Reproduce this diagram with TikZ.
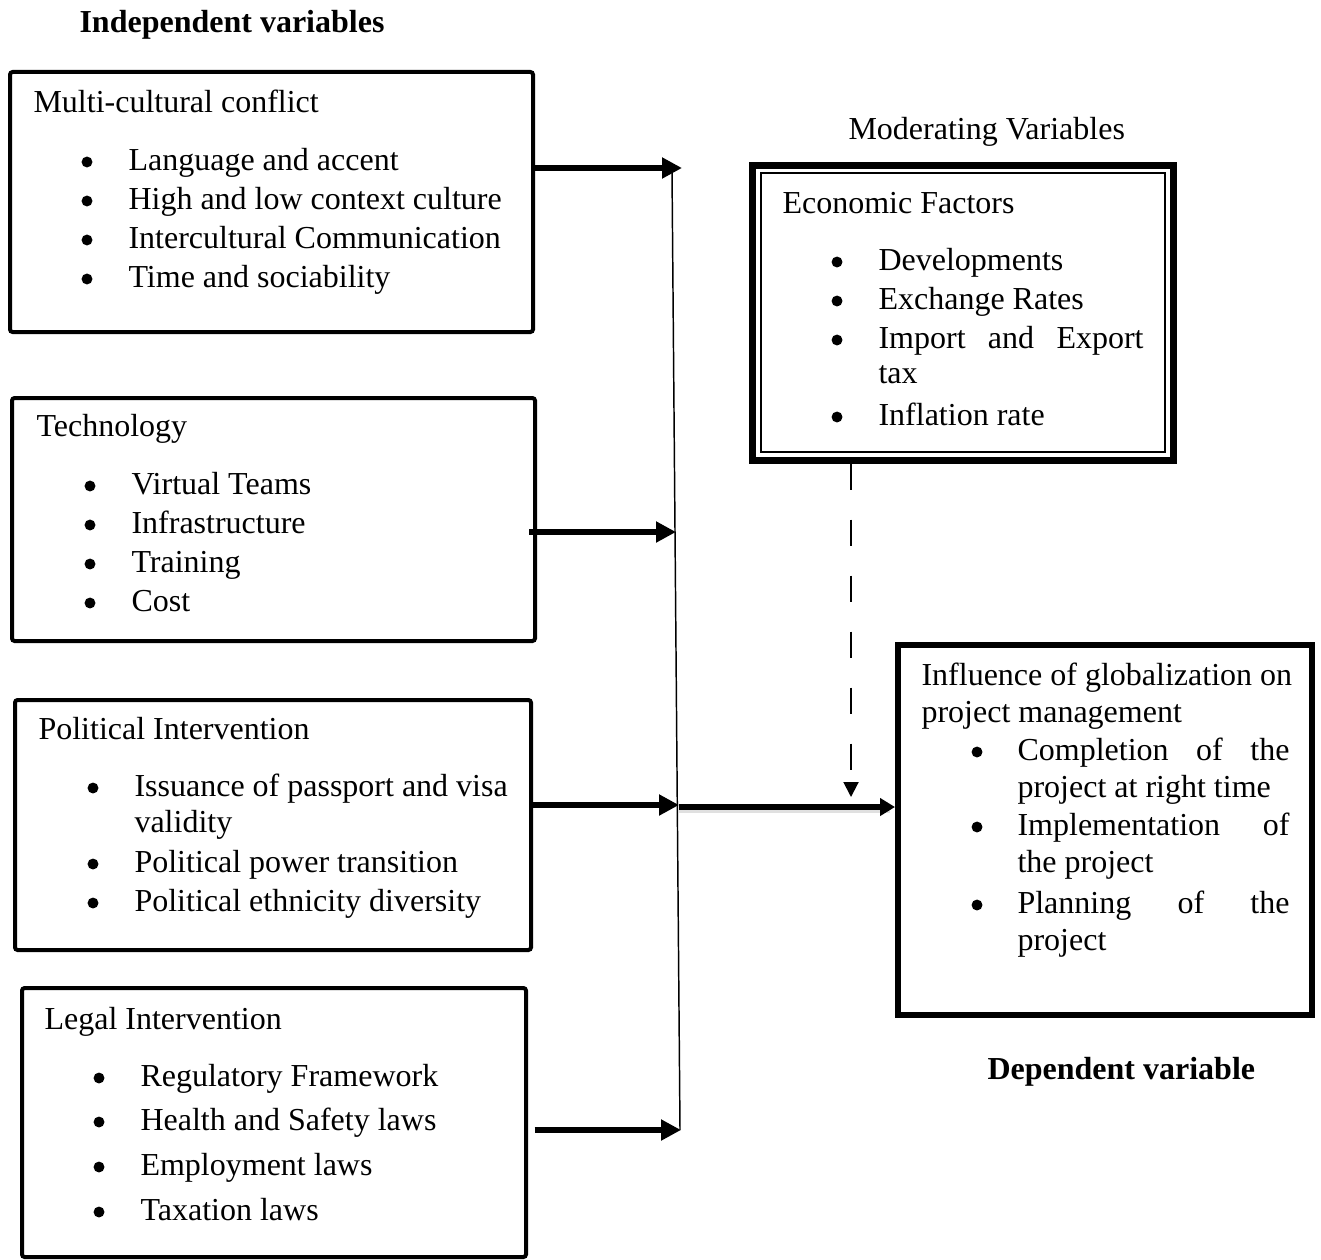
\documentclass[tikz,border=0pt]{standalone}
\usepackage{fontspec}
\setmainfont{Liberation Serif}
\usetikzlibrary{arrows.meta,fit}
\begin{document}
\begin{tikzpicture}[x=0.375pt,y=-0.375pt,
  box/.style={draw, line width=1.5pt, rounded corners=1pt, inner sep=0pt},
  txt/.style={anchor=base west, inner sep=0pt, font=\fontsize{12}{14}\selectfont},
  txtb/.style={anchor=base west, inner sep=0pt, font=\fontsize{12}{14}\selectfont\bfseries},
  bul/.style={circle, fill=black, inner sep=0pt, minimum size=4.1pt},
  arr/.style={line width=2.3pt, -{Triangle[length=7.5pt,width=7.5pt]}},
  mainarr/.style={line width=2.2pt, -{Triangle[length=5.6pt,width=6.4pt]}},
  dasharr/.style={line width=0.75pt, dash pattern=on 10.1pt off 10.9pt, -{Triangle[length=5.6pt,width=5.6pt]}},
  thinline/.style={line width=0.55pt}]
\useasboundingbox (0,0) rectangle (1321,1259);

% title
\node[txtb] (tind) at (79,33) {Independent variables};

% Box 1
\node[box, fit={(10,72) (533,332)}] (b1) {};
\node[txt] (b1h) at (33,112) {Multi-cultural conflict};
\node[bul] (b1p1) at (87,162) {}; \node[txt] (b1t1) at (128,170) {Language and accent};
\node[bul] (b1p2) at (87,201) {}; \node[txt] (b1t2) at (128,209) {High and low context culture};
\node[bul] (b1p3) at (87,240) {}; \node[txt] (b1t3) at (128,248) {Intercultural Communication};
\node[bul] (b1p4) at (87,279) {}; \node[txt] (b1t4) at (128,287) {Time and sociability};

% Box 2
\node[box, fit={(12,398) (535,641)}] (b2) {};
\node[txt] (b2h) at (36,436) {Technology};
\node[bul] (b2p1) at (90,486) {}; \node[txt] (b2t1) at (131,494) {Virtual Teams};
\node[bul] (b2p2) at (90,525) {}; \node[txt] (b2t2) at (131,533) {Infrastructure};
\node[bul] (b2p3) at (90,564) {}; \node[txt] (b2t3) at (131,572) {Training};
\node[bul] (b2p4) at (90,603) {}; \node[txt] (b2t4) at (131,611) {Cost};

% Box 3
\node[box, fit={(15,700) (531,950)}] (b3) {};
\node[txt] (b3h) at (38,739) {Political Intervention};
\node[bul] (b3p1) at (93,788) {}; \node[txt] (b3t1) at (134,796) {Issuance of passport and visa};
\node[txt] (b3t1b) at (134,832) {validity};
\node[bul] (b3p2) at (93,864) {}; \node[txt] (b3t2) at (134,872) {Political power transition};
\node[bul] (b3p3) at (93,903) {}; \node[txt] (b3t3) at (134,911) {Political ethnicity diversity};

% Box 4
\node[box, fit={(22,988) (526,1257)}] (b4) {};
\node[txt] (b4h) at (44,1029) {Legal Intervention};
\node[bul] (b4p1) at (99,1078) {}; \node[txt] (b4t1) at (140,1086) {Regulatory Framework};
\node[bul] (b4p2) at (99,1122) {}; \node[txt] (b4t2) at (140,1130) {Health and Safety laws};
\node[bul] (b4p3) at (99,1167) {}; \node[txt] (b4t3) at (140,1175) {Employment laws};
\node[bul] (b4p4) at (99,1212) {}; \node[txt] (b4t4) at (140,1220) {Taxation laws};

% Moderating
\node[txt] (tmod) at (848,139) {Moderating Variables};
\node[draw, line width=2.625pt, inner sep=0pt, fit={(752,165) (1173,460)}] (mod) {};
\node[draw, line width=0.6pt, inner sep=0pt, fit={(761,173) (1165,452)}] (modin) {};
\node[txt] (modh) at (782,213) {Economic Factors};
\node[bul] (mp1) at (837,262) {}; \node[txt] (mt1) at (878,270) {Developments};
\node[bul] (mp2) at (837,301) {}; \node[txt] (mt2) at (878,309) {Exchange Rates};
\node[bul] (mp3) at (837,340) {}; \node[txt] (mt3) at (878,348) {\makebox[99.4pt][s]{Import and Export}};
\node[txt] (mt3b) at (878,383) {tax};
\node[bul] (mp4) at (837,417) {}; \node[txt] (mt4) at (878,425) {Inflation rate};

% Dependent
\node[draw, line width=2.25pt, inner sep=0pt, fit={(898,645) (1312,1015)}] (dep) {};
\node[txt] (dh1) at (921,685) {Influence of globalization on};
\node[txt] (dh2) at (921,722) {project management};
\node[bul] (dp1) at (977,752) {}; \node[txt] (dt1) at (1017,760) {\makebox[102pt][s]{Completion of the}};
\node[txt] (dt1b) at (1017,797) {project at right time};
\node[bul] (dp2) at (977,827) {}; \node[txt] (dt2) at (1017,835) {\makebox[102pt][s]{Implementation of}};
\node[txt] (dt2b) at (1017,872) {the project};
\node[bul] (dp3) at (977,905) {}; \node[txt] (dt3) at (1017,913) {\makebox[102pt][s]{Planning of the}};
\node[txt] (dt3b) at (1017,950) {project};
\node[txtb] (tdep) at (987,1079) {Dependent variable};

% connectors
\coordinate (vtop) at (672,172);
\coordinate (vbot) at (680,1130);
\coordinate (v1) at (682,168);
\coordinate (v2) at (676,532);
\coordinate (v3) at (679,805);
\coordinate (v4) at (681,1130);
\coordinate (j) at (679,807);
\coordinate (dtip) at (851,797);

\draw[thinline] (vtop) -- (vbot);
\draw[arr] (b1.east |- v1) -- (v1);
\draw[arr] ([xshift=-3pt]b2.east |- v2) -- (v2);
\draw[arr] (b3.east |- v3) -- (v3);
\draw[arr] ([xshift=2.5pt]b4.east |- v4) -- (v4);
\draw[line width=2.2pt, black!12] ([yshift=-1.2pt]j) -- ([yshift=-1.2pt,xshift=-2pt]dep.west |- j);
\draw[mainarr] (j) -- (dep.west |- j);
\draw[dasharr] (mod.south -| dtip) -- (dtip);
\end{tikzpicture}
\end{document}
